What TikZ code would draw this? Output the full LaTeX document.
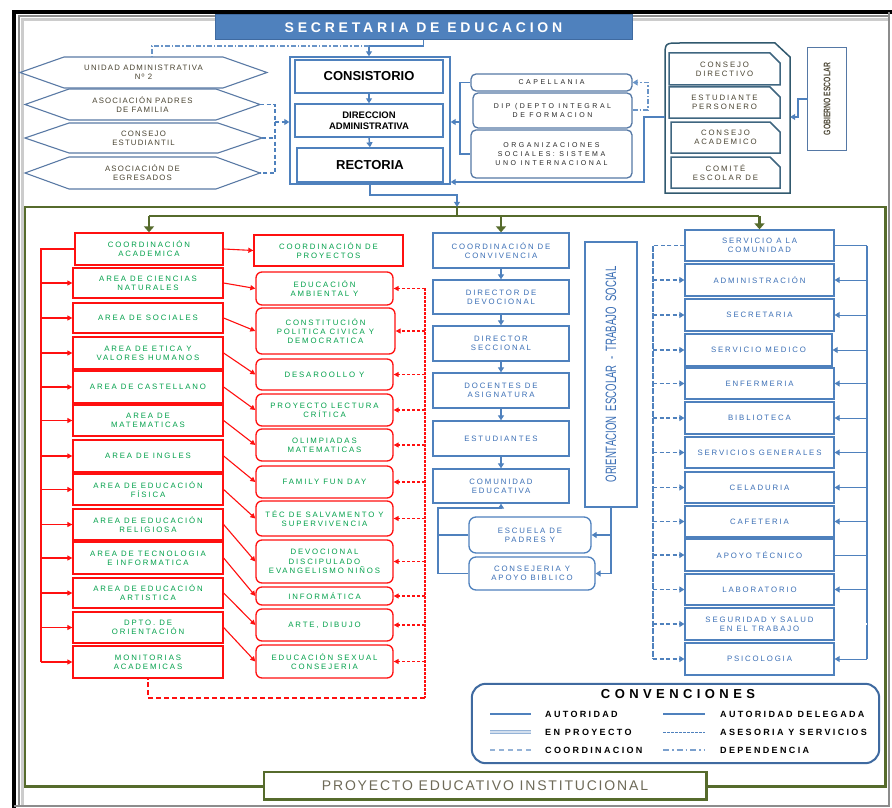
\documentclass[tikz,border=0pt]{standalone}
\usepackage{fontspec}
\setmainfont{Liberation Sans}
\newfontfamily\wsp[LetterSpace=24]{Liberation Sans}
\usetikzlibrary{arrows.meta,shapes.misc}
\definecolor{bl}{HTML}{4F81BD}
\definecolor{bld}{HTML}{3F6AA0}
\definecolor{btxt}{HTML}{3A6EB5}
\definecolor{olv}{HTML}{566B2C}
\definecolor{gtxt}{HTML}{00A04A}
\definecolor{rd}{HTML}{FF1010}
\definecolor{gbc}{HTML}{3F6680}
\definecolor{gout}{HTML}{31596E}
\definecolor{hexb}{HTML}{5A7AA5}
\definecolor{dtxt}{HTML}{4A4432}
\definecolor{capc}{HTML}{5578A5}
\definecolor{peit}{HTML}{6E6A58}
\newcommand{\mybox}[7]{\node[#1, minimum width={#5-#3}, minimum height={#6-#4}] (#2) at ({(#3+#5)/2},{(#4+#6)/2}) {#7};}
\newcommand{\myhexa}[6]{\draw[hexline] (#2,{(#3+#5)/2}) -- ({#2+44},#3) -- ({#4-44},#3) -- (#4,{(#3+#5)/2}) -- ({#4-44},#5) -- ({#2+44},#5) -- cycle; \mybox{hexn}{#1}{#2}{#3}{#4}{#5}{#6}}
\tikzset{
 blline/.style={draw=bl, line width=1.4pt},
 blarrow/.style={blline, -{Triangle[length=5pt,width=6pt]}},
 blthin/.style={draw=bl, line width=1pt},
 blthinarrow/.style={blthin, -{Triangle[length=5pt,width=6pt]}},
 bldash/.style={draw=bl, line width=1.1pt, dash pattern=on 4pt off 2.5pt},
 bldasharrow/.style={bldash, -{Triangle[length=5pt,width=6pt]}},
 bldd/.style={draw=bl!85, line width=1.1pt, dash pattern=on 5pt off 2pt on 1.5pt off 2pt},
 rline/.style={draw=rd, line width=1.4pt},
 rarrow/.style={draw=rd, line width=1.1pt, -{Triangle[length=5pt,width=5pt]}},
 rdash/.style={draw=rd, line width=1.1pt, dash pattern=on 3pt off 2pt, -{Triangle[length=5pt,width=5pt]}},
 rdot/.style={draw=rd, line width=2.8pt, dash pattern=on 2.5pt off 1.5pt},
 rdash2/.style={draw=rd, line width=1.6pt, dash pattern=on 5pt off 3pt},
 oline/.style={draw=olv, line width=2.6pt},
 oarrow/.style={oline, -{Triangle[length=6pt,width=10pt]}},
 txt/.style={font=\wsp\fontsize{7.8}{9.3}\selectfont, align=center, inner sep=1pt},
 redbox/.style={txt, draw=rd, line width=1.3pt, fill=white, text=gtxt},
 redrbox/.style={redbox, rounded corners=6pt},
 bluebox/.style={txt, draw=bl, line width=1.3pt, fill=white, text=btxt},
 bluerbox/.style={bluebox, rounded corners=7pt},
 bigb/.style={draw=bl, line width=1.4pt, fill=white, inner sep=0pt},
 topbox/.style={draw=bl, line width=1.4pt, fill=white, font=\bfseries\fontsize{13}{14}\selectfont, align=center, inner sep=1pt},
 topboxs/.style={topbox, font=\bfseries\fontsize{9.5}{11}\selectfont},
 capbox/.style={txt, font=\wsp\addfontfeature{LetterSpace=36}\fontsize{7}{9.3}\selectfont, draw=capc, line width=1.3pt, rounded corners=5pt, fill=white, text=black!85},
 gbox/.style={txt, chamfered rectangle, chamfered rectangle corners=north east, chamfered rectangle xsep=5pt, chamfered rectangle ysep=5pt, draw=gbc, line width=1.5pt, fill=white, text=dtxt},
 hexn/.style={txt, font=\wsp\addfontfeature{LetterSpace=15}\fontsize{7.8}{9.3}\selectfont, text=dtxt, inner sep=0pt},
 hexline/.style={draw=hexb, line width=1.1pt, fill=white},
 inv/.style={inner sep=0pt},
 secbox/.style={fill=bl, draw=bld, line width=1pt, text=white, font=\wsp\bfseries\addfontfeature{LetterSpace=27}\fontsize{14}{15}\selectfont, inner sep=0pt},
 legl/.style={font=\wsp\bfseries\addfontfeature{LetterSpace=26}\fontsize{9}{10}\selectfont, anchor=west, inner sep=0pt},
}
\begin{document}
\begin{tikzpicture}[x=1pt,y=-1pt]
\useasboundingbox (0,0) rectangle (892,808);
\fill[white] (0,0) rectangle (892,808);
% outer frame
\draw[black!20, line width=3pt] (22,806) -- (22,20) -- (889,20);
\draw[black!45, line width=2pt] (18.5,806) -- (18.5,16.5) -- (889,16.5);
\draw[black, line width=4pt] (14,808) -- (14,12) -- (892,12);
\draw[black!45, line width=2.5pt] (889,12) -- (889,806) -- (14,806);

% ===== top =====
\mybox{secbox}{sec}{215}{15}{632}{40}{SECRETARIA DE EDUCACION}
\myhexa{una}{20}{57}{267}{88}{UNIDAD ADMINISTRATIVA\\Nº 2}
\myhexa{apf}{25}{89}{260}{120}{ASOCIACIÓN PADRES\\DE FAMILIA}
\myhexa{cest}{25}{123}{262}{153}{CONSEJO\\ESTUDIANTIL}
\myhexa{egr}{25}{157}{260}{189}{ASOCIACIÓN DE\\EGRESADOS}

\mybox{bigb}{big}{290}{57}{450}{184}{}
\mybox{topbox}{cons}{295}{60}{443}{93}{CONSISTORIO}
\mybox{topboxs}{diradm}{295}{104}{443}{137}{DIRECCION\\ADMINISTRATIVA}
\mybox{topbox}{rect}{297}{148}{443}{182}{RECTORIA}

\mybox{capbox}{cap}{471}{74}{632}{91}{CAPELLANIA}
\mybox{capbox}{dip}{473}{93}{632}{128}{DIP (DEPTO INTEGRAL\\DE FORMACION}
\mybox{capbox}{org}{471}{130}{632}{178}{ORGANIZACIONES\\SOCIALES: SISTEMA\\UNO INTERNACIONAL}

% gobierno escolar group
\mybox{inv}{gobg}{665}{43}{790}{193}{}
\draw[draw=gout, line width=1.5pt] (665,193) -- (665,57) .. controls (665,43) .. (680,43) -- (775,43) -- (790,57) -- (790,193) -- cycle;
\mybox{gbox}{cdir}{669}{53}{780}{85}{CONSEJO\\DIRECTIVO}
\mybox{gbox}{pers}{669}{87}{780}{118}{ESTUDIANTE\\PERSONERO}
\mybox{gbox}{cacad}{671}{122}{780}{153}{CONSEJO\\ACADEMICO}
\mybox{gbox}{comi}{671}{157}{780}{188}{COMITÉ\\ESCOLAR DE}
\mybox{inv}{gesc}{808}{48}{846}{150}{}
\draw[draw=capc, line width=1.3pt] (gesc.south west) rectangle (gesc.north east);
\node[rotate=90, text=dtxt, font=\bfseries\fontsize{9.5}{10}\selectfont, inner sep=0pt] at (gesc) {\scalebox{0.72}[1]{GOBIERNO ESCOLAR}};

% top connectors
\coordinate (c1) at (369,46);
\draw[blarrow] (sec.south) -- (sec.south |- c1) -- (c1) -- (c1 |- big.north);
\draw[bldd] (c1) -- (152,46) -- (152,57);
\draw[blarrow] (cons.south) -- (diradm.north);
\draw[blarrow] (diradm.south) -- (rect.north);
\coordinate (hx) at (275,122);
\draw[bldash] (apf.east) -- (apf.east -| hx) -- (egr.east -| hx) -- (egr.east);
\draw[bldash] (cest.east) -- (cest.east -| hx);
\draw[bldasharrow] (hx) -- (hx -| big.west);
\coordinate (cv) at (460,122);
\draw[blline] (cap.west) -- (cap.west -| cv) -- (org.west -| cv) -- (org.west);
\draw[blarrow] (cv) -- (cv -| big.east);
\coordinate (dv) at (648,110);
\draw[bldd, -{Triangle[length=5pt,width=6pt]}] (dip.east |- dv) -- (dv) -- (dv |- cap.east) -- (cap.east);
\coordinate (g1) at (644,117);
\coordinate (g2) at (644,182);
\draw[blarrow] (gobg.west |- g1) -- (g1) -- (g2) -- (g2 -| big.east);
\coordinate (g3) at (798,117);
\draw[blarrow] (gesc.west) -| (g3) -- (g3 -| gobg.east);

% ===== frame =====
\mybox{inv}{frame}{25}{207}{885}{786}{}
\draw[oline] (frame.south west) rectangle (frame.north east);
\coordinate (c3) at (457,195);
\draw[blarrow] (big.south) -- (big.south |- c3) -- (c3) -- (c3 |- frame.north);
\coordinate (dist) at (457,216);
\draw[oline] (c3 |- frame.north) -- (dist);
\draw[oline] (149,216) -- (759,216);

% ===== red left =====
\mybox{redbox}{ca}{75}{233}{223}{265}{COORDINACIÓN\\ACADEMICA}
\mybox{redbox}{cn}{73}{268}{223}{298}{AREA DE CIENCIAS\\NATURALES}
\mybox{redbox}{soc}{73}{303}{223}{333}{AREA DE SOCIALES}
\mybox{redbox}{eti}{73}{337}{223}{369}{AREA DE ETICA Y\\VALORES HUMANOS}
\mybox{redbox}{cas}{73}{371}{223}{403}{AREA DE CASTELLANO}
\mybox{redbox}{mat}{73}{405}{223}{436}{AREA DE\\MATEMATICAS}
\mybox{redbox}{ing}{73}{440}{223}{472}{AREA DE INGLES}
\mybox{redbox}{fis}{73}{474}{223}{505}{AREA  DE EDUCACIÓN\\FÍSICA}
\mybox{redbox}{rel}{73}{509}{223}{540}{AREA DE EDUCACIÓN\\RELIGIOSA}
\mybox{redbox}{tec}{73}{542}{223}{574}{AREA DE TECNOLOGIA\\E INFORMATICA}
\mybox{redbox}{art}{73}{578}{223}{608}{AREA DE EDUCACIÓN\\ARTISTICA}
\mybox{redbox}{ori}{73}{612}{223}{643}{DPTO. DE\\ORIENTACIÓN}
\mybox{redbox}{mon}{73}{646}{223}{678}{MONITORIAS\\ACADEMICAS}

\mybox{redbox}{cp}{254}{235}{403}{266}{COORDINACIÓN DE\\PROYECTOS}
\mybox{redrbox}{amb}{256}{272}{393}{305}{EDUCACIÓN\\AMBIENTAL Y}
\mybox{redrbox}{con}{256}{308}{395}{354}{CONSTITUCIÓN\\POLITICA CIVICA Y\\DEMOCRATICA}
\mybox{redrbox}{des}{256}{359}{393}{390}{DESAROOLLO Y}
\mybox{redrbox}{lec}{256}{394}{393}{426}{PROYECTO LECTURA\\CRÍTICA}
\mybox{redrbox}{oli}{256}{429}{393}{461}{OLIMPIADAS\\MATEMATICAS}
\mybox{redrbox}{fam}{256}{466}{393}{498}{FAMILY FUN DAY}
\mybox{redrbox}{sal}{256}{501}{393}{536}{TÉC DE SALVAMENTO Y\\SUPERVIVENCIA}
\mybox{redrbox}{dev}{256}{540}{393}{583}{DEVOCIONAL\\DISCIPULADO\\EVANGELISMO NIÑOS}
\mybox{redrbox}{inf}{256}{587}{393}{605}{INFORMÁTICA}
\mybox{redrbox}{dib}{256}{609}{393}{641}{ARTE, DIBUJO}
\mybox{redrbox}{sex}{256}{645}{393}{678}{EDUCACIÓN SEXUAL\\CONSEJERIA}

\draw[oarrow] (ca.north |- dist) -- (ca.north);
\coordinate (rv) at (41,248);
\draw[rline] (ca.west) -- (ca.west -| rv) -- (mon.west -| rv);
\foreach \n in {cn,soc,eti,cas,mat,ing,fis,rel,tec,art,ori,mon}
  \draw[rarrow] (\n.west -| rv) -- (\n.west);
\foreach \a/\b in {ca/cp,cn/amb,soc/con,eti/des,cas/lec,mat/oli,ing/fam,fis/sal,rel/dev,tec/inf,art/dib,ori/sex}
  \draw[rarrow] (\a.east) -- (\b.west);
\coordinate (rd1) at (425,288);
\coordinate (rd2) at (425,698);
\draw[rdot] (rd1) -- (rd2);
\draw[rdash2] (rd2) -- (rd2 -| mon.south) -- (mon.south);
\foreach \n in {amb,con,des,lec,oli,fam,sal,dev,inf,dib,sex}
  \draw[rdash] (\n.east -| rd1) -- (\n.east);

% ===== blue middle =====
\mybox{bluebox}{conv}{433}{233}{569}{268}{COORDINACIÓN DE\\CONVIVENCIA}
\mybox{bluebox}{ddev}{433}{280}{569}{314}{DIRECTOR DE\\DEVOCIONAL}
\mybox{bluebox}{dsec}{433}{326}{569}{361}{DIRECTOR\\SECCIONAL}
\mybox{bluebox}{doc}{433}{373}{569}{408}{DOCENTES DE\\ASIGNATURA}
\mybox{bluebox}{est}{433}{421}{569}{456}{ESTUDIANTES}
\mybox{bluebox}{com}{433}{469}{569}{503}{COMUNIDAD\\EDUCATIVA}
\mybox{bluerbox}{esc}{469}{517}{591}{553}{ESCUELA DE\\PADRES Y}
\mybox{bluerbox}{csj}{469}{557}{595}{590}{CONSEJERIA Y\\APOYO BIBLICO}
\mybox{bluebox}{orien}{585}{242}{637}{507}{}
\node[rotate=90, text=btxt, font=\fontsize{15}{16}\selectfont, inner sep=0pt] at (orien) {\scalebox{0.64}[1]{ORIENTACION\ \ ESCOLAR\ \ -\ \ TRABAJO\ \ SOCIAL}};

\draw[oarrow] (conv.north |- dist) -- (conv.north);
\draw[blarrow] (conv.south) -- (ddev.north);
\draw[blarrow] (ddev.south) -- (dsec.north);
\draw[blarrow] (dsec.south) -- (doc.north);
\draw[blarrow] (doc.south) -- (est.north);
\draw[blarrow] (est.south) -- (com.north);
\coordinate (lv) at (438,508);
\draw[blline] (esc.west) -- (esc.west -| lv);
\draw[blarrow] (csj.west) -| (lv) -- (lv -| com.south) -- (com.south);
\draw[blline] (orien.south) -- (orien.south |- csj.east);
\draw[blarrow] (orien.south |- esc.east) -- (esc.east);
\draw[blarrow] (orien.south |- csj.east) -- (csj.east);

% ===== right column =====
\mybox{bluebox}{serv}{685}{230}{834}{261}{SERVICIO A LA\\COMUNIDAD}
\mybox{bluebox}{adm}{685}{264}{834}{296}{ADMINISTRACIÓN}
\mybox{bluebox}{secr}{685}{299}{834}{331}{SECRETARIA}
\mybox{bluebox}{smed}{685}{334}{832}{366}{SERVICIO MEDICO}
\mybox{bluebox}{enf}{685}{368}{834}{399}{ENFERMERIA}
\mybox{bluebox}{bib}{685}{402}{834}{434}{BIBLIOTECA}
\mybox{bluebox}{sgen}{685}{437}{834}{468}{SERVICIOS GENERALES}
\mybox{bluebox}{cel}{685}{472}{834}{503}{CELADURIA}
\mybox{bluebox}{caf}{685}{506}{834}{537}{CAFETERIA}
\mybox{bluebox}{apo}{685}{539}{834}{571}{APOYO TÉCNICO}
\mybox{bluebox}{lab}{685}{574}{834}{605}{LABORATORIO}
\mybox{bluebox}{seg}{685}{608}{834}{640}{SEGURIDAD Y SALUD\\EN EL TRABAJO}
\mybox{bluebox}{psi}{685}{643}{834}{675}{PSICOLOGIA}

\draw[oarrow] (serv.north |- dist) -- (serv.north);
\coordinate (rr) at (867,245);
\draw[blthin] (serv.east) -- (serv.east -| rr);
\draw[blline, line width=2pt] (serv.east -| rr) -- (psi.east -| rr);
\foreach \n in {adm,secr,smed,enf,bib,sgen,cel,caf,lab,psi}
  \draw[blthinarrow] (\n.east -| rr) -- (\n.east);
\draw[blthin] (apo.east -| rr) -- (apo.east);
\draw[draw=bl, line width=0.8pt, double=white, double distance=1.2pt] (seg.east -| rr) -- (seg.east);
\coordinate (ll) at (653,245);
\draw[bldash] (serv.west) -- (serv.west -| ll);
\draw[bldash, line width=1.8pt, dash pattern=on 6pt off 1.5pt] (serv.west -| ll) -- (psi.west -| ll);
\foreach \n in {adm,secr,smed,enf,bib,sgen,cel,caf,apo,lab,seg,psi}
  \draw[bldasharrow] (\n.west -| ll) -- (\n.west);

% ===== legend =====
\mybox{inv}{leg}{472}{684}{879}{763}{}
\draw[draw=bld, line width=2pt, rounded corners=14pt] (leg.south west) rectangle (leg.north east);
\node[font=\wsp\bfseries\addfontfeature{LetterSpace=34}\fontsize{13}{14}\selectfont, inner sep=0pt] (ltit) at (678,694) {CONVENCIONES};
\draw[draw=bl, line width=2.6pt] (490,714) -- (531,714);
\node[legl] (l1) at (545,714) {AUTORIDAD};
\draw[draw=bl!60, line width=1pt, double=bl!25, double distance=1.6pt] (490,732) -- (531,732);
\node[legl] (l2) at (545,732) {EN PROYECTO};
\draw[draw=bl!60, line width=1.5pt, dash pattern=on 5pt off 4pt] (490,750) -- (531,750);
\node[legl] (l3) at (545,750) {COORDINACION};
\draw[draw=bl, line width=1.2pt] (663,714) -- (705,714);
\node[legl] (l4) at (720,714) {AUTORIDAD DELEGADA};
\draw[draw=bl, line width=1pt, dash pattern=on 2.5pt off 1.5pt] (663,732) -- (705,732);
\node[legl] (l5) at (720,732) {ASESORIA Y SERVICIOS};
\draw[draw=bl!75, line width=1.1pt, dash pattern=on 6pt off 3pt on 1.5pt off 3pt] (663,750) -- (705,750);
\node[legl] (l6) at (720,750) {DEPENDENCIA};

% ===== PEI =====
\mybox{inv}{pei}{264}{772}{706}{799}{}
\draw[draw=olv, line width=2.6pt, fill=white] (pei.south west) rectangle (pei.north east);
\node[text=peit, font=\wsp\addfontfeature{LetterSpace=13}\fontsize{14}{15}\selectfont, inner sep=0pt] at (485,786) {PROYECTO EDUCATIVO INSTITUCIONAL};
\end{tikzpicture}
\end{document}
